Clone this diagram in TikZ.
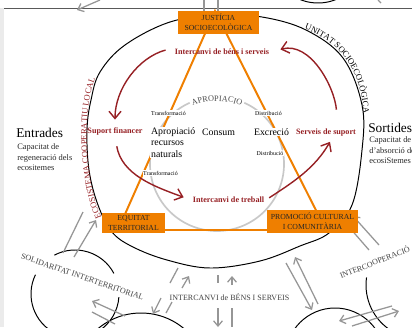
\documentclass[tikz,border=0pt]{standalone}
\usepackage{fontspec}
\setmainfont{Liberation Serif}
\usetikzlibrary{arrows.meta, positioning, decorations.text}
\definecolor{orng}{RGB}{239,127,0}
\definecolor{dred}{RGB}{150,32,36}
\definecolor{circgray}{RGB}{200,200,200}
\definecolor{arrgray}{RGB}{150,150,150}

\begin{document}
\begin{tikzpicture}[x=0.25mm, y=0.25mm,
  box/.style={fill=orng, inner sep=0pt, align=center, text=black!85, font=\fontsize{5.5}{7.1}\selectfont},
  redlbl/.style={text=dred, inner sep=1pt, font=\bfseries\fontsize{5.8}{7}\selectfont},
  ctrlbl/.style={fill=white, inner sep=0.6pt, font=\fontsize{7}{8.2}\selectfont},
  tinylbl/.style={fill=white, inner sep=0.4pt, font=\fontsize{4.2}{5}\selectfont},
  ttl/.style={inner sep=0pt, anchor=west, font=\fontsize{9.5}{11}\selectfont},
  desc/.style={inner sep=0pt, anchor=west, align=left, text=black!85, font=\fontsize{6}{7.4}\selectfont},
  caplbl/.style={inner sep=0pt, text=black!75, font=\fontsize{5.7}{7}\selectfont},
  redarr/.style={dred, line width=1pt, -{Straight Barb[length=1.8mm,width=3mm]}},
  grayarr/.style={arrgray, line width=0.9pt, -{Straight Barb[length=1.3mm,width=2.2mm]}},
  grayln/.style={arrgray, line width=0.9pt},
  ring/.style={black, line width=0.7pt}]
\useasboundingbox (0,0) rectangle (412,327);
\clip (0,0) rectangle (412,327);

\fill [black!8] (0,0) rectangle (4,319);
\draw [black!65, line width=0.7pt] (4,319) -- (412,319);

% neighbouring units
\draw [ring] (75,33) ++(28:44) arc [start angle=28, end angle=118, radius=44];
\draw [ring] (75,33) ++(154:44) arc [start angle=154, end angle=356, radius=44];
\draw [ring] (141,-53) circle [radius=67];
\draw [ring] (335,-30.5) circle [radius=49.5];
\draw [ring] (420,42) ++(172:54) arc [start angle=172, end angle=240, radius=54];
\draw [ring] (318,357) ellipse [x radius=40, y radius=33];

\draw [grayarr] (100,327) -- (77,317);
\draw [grayln] (378,327) -- (381,324);
\foreach \gx in {204,218}
  \draw [grayln] (\gx,327) -- (\gx,316);
\draw [grayln] (63,74) -- (83,115);
\draw [grayarr] (74,70) -- (96,107);
\draw [grayarr] (125,11) -- (92,26);
\draw [grayln] (92,15) -- (115,3);
\draw [grayln] (170,44) -- (178,59);
\draw [grayarr] (182,39) -- (189,51);
\draw [grayarr] (161,29) -- (153,13);
\draw [grayln] (166,14) -- (172,25);
\draw [grayln] (218,52) -- (218,44);
\draw [grayarr] (232,42) -- (232,51);
\draw [grayarr] (218,19) -- (218,0);
\draw [grayln] (232,19) -- (232,0);
\draw [grayarr] (286,64) -- (312,17);
\draw [grayarr] (318,23) -- (295,70);
\draw [grayarr] (379,82) -- (353,111);
\draw [grayln] (349,100) -- (369,77);
\draw [grayarr] (392,21) -- (339,6);
\draw [grayarr] (352,1) -- (399,16);

% unitat socioecologica
\draw [ring] plot [smooth cycle, tension=0.6] coordinates {(218,312) (262,310) (306,297) (343,269) (362,222) (362,177) (352,122) (329,94) (300,81) (260,66) (210,59) (167,67) (133,80) (112,95) (98,122) (89,157) (87,197) (91,227) (100,255) (125,282) (170,305)};

\draw [circgray, line width=1.2pt] (217,163) ++(66:67) arc [start angle=66, end angle=-246, radius=67];

\coordinate (apex) at (215,316);
\coordinate (lcorner) at (118,97);
\coordinate (rcorner) at (326,97);
\draw [orng, line width=1.4pt] (apex) -- (lcorner) -- (rcorner) -- cycle;

\node [redlbl] (ibs) at (222,275) {Intercanvi de béns i serveis};
\node [redlbl] (sf) at (115,196) {Suport financer};
\node [redlbl] (ss) at (326,194) {Serveis de suport};
\node [redlbl] (itr) at (228.5,127) {Intercanvi de treball};

\draw [redarr, shorten <=2mm, shorten >=1.5mm] ([yshift=1mm]ibs.west) .. controls +(195:36) and +(90:37) .. (sf.north);
\draw [redarr, shorten <=2.5mm, shorten >=2mm] (sf.south) .. controls +(-80:39) and +(160:39) .. (itr.west);
\draw [redarr, shorten <=1mm, shorten >=1mm] (itr.east) .. controls +(33:34) and +(240:34) .. ([xshift=1.5mm]ss.south);
\draw [redarr, shorten <=4.5mm, shorten >=2.5mm] ([xshift=3mm]ss.north) .. controls +(95:41) and +(15:41) .. (ibs.east);

\node [ctrlbl, anchor=west, align=left] (apr) at (150,184.5) {Apropiació\\recursos\\naturals};
\node [ctrlbl] (cons) at (218.5,195) {Consum};
\node [ctrlbl] (excr) at (271.5,195) {Excreció};
\node [tinylbl] (trA) at (168.5,214) {Transformació};
\node [tinylbl] (trB) at (160.5,154) {Transformació};
\node [tinylbl] (dsA) at (268.5,214) {Distribució};
\node [tinylbl] (dsB) at (270,174) {Distribució};

\node [box, minimum width=20.25mm, minimum height=5.75mm] (just) at (218.5,304.5) {JUSTÍCIA\\SOCIOECOLÒGICA};
\node [box, minimum width=15.75mm, minimum height=5mm] (equi) at (133.5,104) {EQUITAT\\TERRITORIAL};
\node [box, minimum width=22.75mm, minimum height=5.75mm] (prom) at (312.5,105.5) {PROMOCIÓ CULTURAL\\I COMUNITÀRIA};

\node [ttl] (entr) at (16,194) {Entrades};
\node [desc] (entrd) at (17,169.5) {Capacitat de\\regeneració dels\\ecositemes};
\node [ttl] (sort) at (368,199) {Sortides};
\node [desc] (sortd) at (369,176.5) {Capacitat de\\d'absorció de\\ecosiStemes};

\node [caplbl, rotate=-19] (solid) at (82.5,50) {SOLIDARITAT INTERTERRITORIAL};
\node [caplbl] (icbs) at (229.5,30) {INTERCANVI de BÉNS I SERVEIS};
\node [caplbl, rotate=22, anchor=base west] (icoop) at (341,48) {INTERCOOPERACIÓ};

\path [decorate, decoration={text along path, text align=center, raise=1pt, text color=dred,
  text={|\fontsize{6.1}{7}\selectfont|ECOSISTEMA COOPERATIU LOCAL}}]
  (103,109) .. controls (88,140) and (82,215) .. (97,249);
\path [decorate, decoration={text along path, text align=center, raise=0.5pt,
  text={|\fontsize{6.1}{7}\selectfont|UNITAT SOCIOECOLÒGICA}}]
  (300,299) .. controls (335,288) and (362,260) .. (363,209);
\path [decorate, decoration={text along path, text align=center, text color=black!70,
  text={|\fontsize{5.9}{7}\selectfont|APROPIACIO}}]
  (217,163) ++(120:63) arc [start angle=120, end angle=60, radius=63];
\end{tikzpicture}
\end{document}
